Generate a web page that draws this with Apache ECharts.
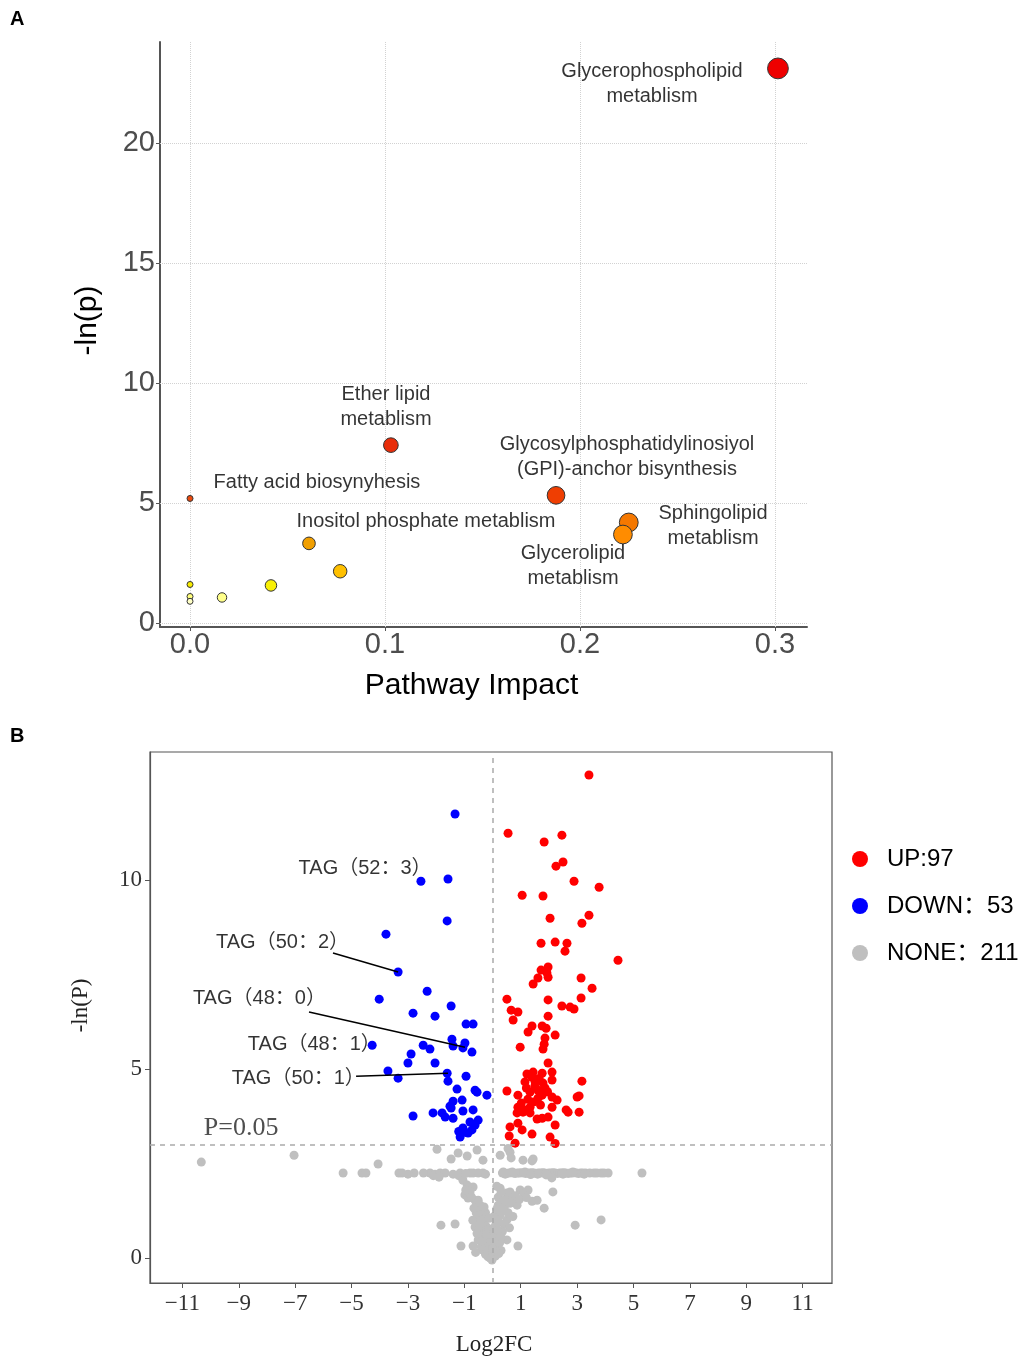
<!DOCTYPE html>
<html>
<head>
<meta charset="utf-8">
<script src="https://cdn.jsdelivr.net/npm/echarts@6/dist/echarts.min.js"></script>
<style>
html,body{margin:0;padding:0;background:#fff;}
#chart{width:1023px;height:1361px;}
</style>
</head>
<body>
<div id="chart"></div>
<script>
// ---------- Panel A: pathway analysis ----------
const pathwayImpact = [0.3015, 0.103, 0.1877, 0.225, 0.222, 0.0, 0.061, 0.077, 0.0415, 0.0164, 0.0, 0.0, 0.0];
const pathwayNegLnP = [23.1, 7.42, 5.33, 4.2, 3.7, 5.2, 3.33, 2.17, 1.58, 1.08, 1.62, 1.12, 0.92];
const pathwayLabels = [
  'Glycerophospholipid\nmetablism',
  'Ether lipid\nmetablism',
  'Glycosylphosphatidylinosiyol\n(GPI)-anchor bisynthesis',
  'Sphingolipid\nmetablism',
  'Glycerolipid\nmetablism',
  'Fatty acid biosynyhesis',
  'Inositol phosphate metablism'
];
const pathwayLabelAnchors = [[0.2369, 22.46], [0.1005, 9.0], [0.2241, 6.92], [0.2682, 4.04], [0.1964, 2.375], [0.0651, 5.875], [0.121, 4.25]];
const impactTicks = [0, 0.1, 0.2, 0.3];
const negLnPTicks = [0, 5, 10, 15, 20];

// ---------- Panel B: volcano ----------
const upPoints = [
[3.42,12.78],[0.55,11.24],[1.83,11.01],[2.46,11.19],[2.25,10.37],[2.50,10.48],[2.89,9.97],[3.78,9.81],[1.05,9.60],[1.79,9.58],
[2.04,8.99],[3.42,9.07],[3.17,8.86],[1.72,8.33],[2.22,8.36],[2.64,8.33],[2.57,8.12],[4.45,7.88],[1.97,7.70],[1.72,7.62],
[1.93,7.54],[1.97,7.43],[1.61,7.41],[1.44,7.25],[3.14,7.41],[3.53,7.14],[0.51,6.85],[1.97,6.83],[3.14,6.88],[2.46,6.67],
[2.75,6.64],[2.89,6.59],[0.66,6.56],[0.90,6.51],[0.73,6.30],[1.97,6.40],[1.40,6.14],[1.26,5.98],[1.76,6.14],[1.90,6.08],
[1.86,5.82],[2.22,5.90],[0.98,5.58],[1.83,5.66],[1.79,5.53],[1.97,5.16],[1.22,4.87],[1.44,4.92],[1.76,4.89],[2.11,4.92],
[1.15,4.66],[1.51,4.66],[1.79,4.63],[2.11,4.71],[3.17,4.68],[0.51,4.42],[0.90,4.31],[1.33,4.39],[1.61,4.44],[1.86,4.50],
[2.11,4.26],[2.29,4.18],[3.00,4.26],[3.07,4.29],[0.90,3.99],[1.08,3.94],[1.33,3.99],[1.44,4.13],[1.61,4.23],[1.76,4.31],
[0.87,3.84],[1.08,3.86],[1.33,3.84],[2.11,3.99],[2.61,3.92],[2.68,3.86],[3.07,3.86],[1.58,3.68],[1.76,3.70],[1.97,3.73],
[0.62,3.47],[0.90,3.57],[2.22,3.52],[1.05,3.39],[1.40,3.28],[0.59,3.23],[2.04,3.20],[0.80,3.04],[2.22,3.03],[1.50,4.55],
[1.65,4.75],[1.25,4.20],[1.95,4.40],[1.70,4.05],[1.20,4.50],[1.40,4.78],[1.02,4.10]
];
const downPoints = [
[-1.33,11.75],[-2.54,9.97],[-1.58,10.03],[-1.61,8.92],[-3.78,8.57],[-3.35,7.57],[-4.02,6.85],[-2.32,7.06],[-1.47,6.67],[-2.82,6.48],
[-2.04,6.40],[-0.94,6.19],[-0.69,6.19],[-1.44,5.79],[-0.98,5.69],[-1.40,5.61],[-1.05,5.56],[-0.73,5.45],[-4.27,5.63],[-2.46,5.63],
[-2.22,5.53],[-2.89,5.40],[-3.00,5.16],[-2.04,5.16],[-3.71,4.95],[-3.35,4.76],[-1.61,4.89],[-1.58,4.68],[-0.94,4.81],[-1.26,4.47],
[-0.62,4.44],[-0.55,4.39],[-0.20,4.31],[-1.40,4.15],[-1.08,4.18],[-1.51,4.02],[-1.47,3.97],[-0.69,3.92],[-1.05,3.89],[-2.82,3.76],
[-2.11,3.84],[-1.79,3.84],[-1.68,3.73],[-1.40,3.70],[-0.51,3.65],[-0.62,3.52],[-0.73,3.39],[-0.87,3.31],[-1.05,3.44],[-1.15,3.20],
[-0.98,3.33],[-0.80,3.60],[-1.20,3.35]
];
const nonePoints = [
[-10.33,2.54],[-7.04,2.72],[-4.06,2.49],
[-5.30,2.25],[-4.63,2.25],[-4.49,2.25],[-3.32,2.25],[-3.21,2.25],[-2.78,2.25],[-2.22,2.25],[-2.04,2.22],[-1.86,2.25],[-1.68,2.25],
[-1.15,2.25],[-0.69,2.25],[-0.51,2.25],[-0.34,2.25],[-1.20,2.18],[-2.10,2.18],
[-1.97,2.88],[-1.22,2.78],[-0.90,2.70],[-0.55,2.86],[-0.34,2.59],[-1.47,2.62],[-1.90,2.14],
[0.27,2.72],[0.62,2.80],[0.66,2.65],[1.08,2.59],[1.40,2.57],[1.44,2.62],[0.55,2.90],
[0.35,2.25],[0.42,2.25],[0.50,2.24],[0.58,2.25],[0.66,2.26],[0.74,2.25],[0.80,2.24],[0.88,2.25],[0.95,2.25],[1.02,2.26],
[1.10,2.25],[1.18,2.24],[1.25,2.25],[1.33,2.25],[1.40,2.26],[1.47,2.25],[1.55,2.24],[1.62,2.25],[1.70,2.25],[1.78,2.26],
[1.85,2.25],[1.92,2.24],[2.00,2.25],[2.08,2.25],[2.15,2.26],[2.22,2.25],[2.30,2.24],[2.38,2.25],[2.45,2.25],[2.52,2.26],
[2.60,2.25],[2.68,2.24],[2.75,2.25],[2.82,2.25],[2.90,2.26],[2.98,2.25],[3.05,2.24],[3.12,2.25],[3.20,2.25],[3.30,2.25],
[3.45,2.25],[3.60,2.25],[3.70,2.25],[3.85,2.25],[3.95,2.25],[4.10,2.25],[5.30,2.25],[2.10,2.12],[1.90,2.20],[0.45,2.22],
[0.70,2.28],[1.15,2.28],[1.60,2.22],[2.50,2.22],[2.85,2.28],[3.25,2.22],[0.38,2.28],[1.35,2.21],
[-1.05,2.06],[-0.90,1.93],[-0.69,1.88],[-0.98,1.67],[-0.87,1.59],[-0.62,1.53],[-0.44,1.40],[-0.51,1.53],[-0.80,1.75],[-0.95,1.80],
[-0.75,1.62],[-0.55,1.45],
[0.27,1.85],[0.51,1.72],[0.62,1.75],[0.98,1.80],[1.26,1.80],[1.58,1.53],[0.20,1.61],[0.37,1.48],[0.73,1.59],[0.87,1.40],
[0.37,1.27],[0.20,1.40],[0.27,1.14],[0.51,1.01],[0.45,1.55],[0.80,1.65],[1.10,1.70],[0.30,1.75],[0.15,1.90],[0.55,1.20],
[0.40,0.90],[0.60,0.80],[2.14,1.75],[1.83,1.32],[1.40,1.50],
[2.93,0.87],[3.85,1.01],[-1.83,0.87],[-1.33,0.90],[-1.12,0.32],[-0.69,0.32],[0.90,0.32],[0.51,0.48],
[-0.44,1.08],[-0.34,1.01],[-0.62,0.82],[-0.37,0.74],[-0.20,0.82],[-0.34,0.61],[-0.09,0.55],[0.16,0.55],[-0.51,0.48],[-0.20,0.40],
[0.02,0.34],[-0.34,0.21],[-0.09,0.13],[0.16,0.29],[-0.02,-0.05],[-0.16,0.03],[0.02,0.16],[-0.25,1.20],[-0.45,1.25],[-0.30,0.95],
[-0.15,0.70],[0.05,0.80],[0.10,0.65],[-0.05,0.45],[0.25,0.40],[0.30,0.20],[-0.40,0.30],[-0.60,0.15],[-0.25,0.10],[0.10,0.05],
[-0.10,0.25],[0.35,0.70],[0.20,1.00],[-0.55,0.65],[-0.70,1.00],[0.05,1.10],[-0.30,1.35],[-0.12,1.05],[0.12,0.90],[-0.45,0.90],
[-0.05,0.62],[-0.28,0.52],[0.08,0.42],[-0.18,0.18],[0.00,0.25],[-0.08,0.00],[0.22,0.12],[-0.38,0.45],[0.18,0.75],[-0.22,0.62],
[0.30,1.22],[0.42,1.35],[0.62,1.45],[0.15,1.30],[-0.58,1.20],[-0.66,1.32],[0.72,1.10],[0.95,1.55],[1.20,1.60],[0.30,0.55],
[-0.80,2.25],[-0.25,2.22],[-2.45,2.25],[-1.40,2.22],[-0.95,2.24],[-3.00,2.22]
];
const volcanoXTicks = [-11, -9, -7, -5, -3, -1, 1, 3, 5, 7, 9, 11];
const volcanoYTicks = [0, 5, 10];
const pThreshold = 2.996; // -ln(0.05)
const tagLabels = ['TAG（52：3）', 'TAG（50：2）', 'TAG（48：0）', 'TAG（48：1）', 'TAG（50：1）', 'P=0.05'];
const tagLabelAnchors = [[-4.52, 10.32], [-7.45, 8.36], [-8.27, 6.88], [-6.32, 5.66], [-6.89, 4.74]];
const pLabelAnchor = [-8.92, 3.44];
const tagLeaders = [
  [[-5.66, 8.07], [-3.35, 7.57]],
  [[-6.51, 6.51], [-0.98, 5.58]],
  [[-4.84, 4.81], [-1.58, 4.89]]
];
const legendNames = ['UP:97', 'DOWN：53', 'NONE：211'];

// ---------- styles ----------
const SANS = 'Liberation Sans, Arial, Noto Sans CJK SC, sans-serif';
const SERIF = 'Liberation Serif, Times New Roman, serif';
const colorStops = [[0.9,[255,255,205]],[1.1,[255,255,130]],[1.6,[248,238,0]],[2.2,[255,190,0]],[3.3,[240,160,0]],[3.7,[255,140,0]],[4.2,[245,120,0]],[5.2,[235,75,15]],[5.35,[240,60,0]],[7.4,[232,45,10]],[23,[238,0,0]]];
function heatColor(v){
  if (v <= colorStops[0][0]) return 'rgb(' + colorStops[0][1].join(',') + ')';
  for (let i = 1; i < colorStops.length; i++) {
    if (v <= colorStops[i][0]) {
      const a = colorStops[i-1], b = colorStops[i];
      const t = (v - a[0]) / (b[0] - a[0]);
      const c = a[1].map((x, k) => Math.round(x + (b[1][k] - x) * t));
      return 'rgb(' + c.join(',') + ')';
    }
  }
  return 'rgb(' + colorStops[colorStops.length-1][1].join(',') + ')';
}

const chart = echarts.init(document.getElementById('chart'), null, {renderer: 'canvas'});
const pathwayData = pathwayImpact.map((x, i) => [x, pathwayNegLnP[i]]);
const gridLineStyle = {type: 'dotted', color: '#d2d2d2', width: 1};

const option = {
  animation: false,
  backgroundColor: '#fff',
  graphic: [
    {type: 'text', left: 10, top: 9, style: {text: 'A', font: 'bold 20px ' + SANS, fill: '#000'}},
    {type: 'text', left: 10, top: 726, style: {text: 'B', font: 'bold 20px ' + SANS, fill: '#000'}}
  ],
  legend: {
    data: legendNames,
    orient: 'vertical',
    left: 847,
    top: 842,
    icon: 'circle',
    itemWidth: 44,
    itemHeight: 16,
    itemGap: 23,
    textStyle: {fontSize: 24, fontFamily: SANS, color: '#000'}
  },
  grid: [
    {left: 160, top: 42, width: 647, height: 585, show: false},
    {left: 150, top: 752, width: 682, height: 531, show: true, borderColor: '#555', borderWidth: 1.2, backgroundColor: '#fff'}
  ],
  xAxis: [
    {
      gridIndex: 0, type: 'value', min: -0.0154, max: 0.3164,
      name: 'Pathway Impact', nameLocation: 'middle', nameGap: 44,
      nameTextStyle: {fontSize: 30, fontFamily: SANS, color: '#000', padding: [0, 24, 0, 0]},
      axisLine: {show: true, onZero: false, lineStyle: {color: '#555', width: 2}},
      axisTick: {show: true, customValues: impactTicks, length: 4, lineStyle: {color: '#555'}},
      axisLabel: {customValues: impactTicks, formatter: v => v.toFixed(1), fontSize: 29, fontFamily: SANS, color: '#4d4d4d', margin: 3},
      splitLine: {show: false}
    },
    {
      gridIndex: 1, type: 'value', min: -12.15, max: 12.04,
      name: 'Log2FC', nameLocation: 'middle', nameGap: 50,
      nameTextStyle: {fontSize: 23, fontFamily: SERIF, color: '#222', padding: [0, 0, 0, 6]},
      axisLine: {show: true, onZero: false, lineStyle: {color: '#555', width: 1.2}},
      axisTick: {show: true, customValues: volcanoXTicks, length: 5, lineStyle: {color: '#555'}},
      axisLabel: {customValues: volcanoXTicks, formatter: v => String(v).replace('-', '\u2212'), fontSize: 23, fontFamily: SERIF, color: '#333', margin: 9},
      splitLine: {show: false}
    }
  ],
  yAxis: [
    {
      gridIndex: 0, type: 'value', min: -0.15, max: 24.2,
      name: '-ln(p)', nameLocation: 'middle', nameGap: 57, nameRotate: 90,
      nameTextStyle: {fontSize: 30, fontFamily: SANS, color: '#000', padding: [0, 0, 0, 28]},
      axisLine: {show: true, onZero: false, lineStyle: {color: '#555', width: 2}},
      axisTick: {show: true, customValues: negLnPTicks, length: 4, lineStyle: {color: '#555'}},
      axisLabel: {customValues: negLnPTicks, fontSize: 29, fontFamily: SANS, color: '#4d4d4d', margin: 5},
      splitLine: {show: false}
    },
    {
      gridIndex: 1, type: 'value', min: -0.66, max: 13.39,
      name: '-ln(P)', nameLocation: 'middle', nameGap: 58, nameRotate: 90,
      nameTextStyle: {fontSize: 23, fontFamily: SERIF, color: '#222', padding: [0, 0, 0, 24]},
      axisLine: {show: true, onZero: false, lineStyle: {color: '#555', width: 1.2}},
      axisTick: {show: true, customValues: volcanoYTicks, length: 5, lineStyle: {color: '#555'}},
      axisLabel: {customValues: volcanoYTicks, fontSize: 23, fontFamily: SERIF, color: '#333', margin: 8},
      splitLine: {show: false}
    }
  ],
  series: [
    {
      type: 'scatter', name: 'pathways', xAxisIndex: 0, yAxisIndex: 0,
      data: pathwayData,
      symbolSize: v => 6 + 27 * Math.sqrt(v[0]),
      itemStyle: {color: p => heatColor(p.value[1]), borderColor: '#333', borderWidth: 1, opacity: 1},
      z: 3,
      markLine: {
        silent: true, symbol: 'none', animation: false,
        label: {show: false},
        lineStyle: gridLineStyle,
        z: 1,
        data: impactTicks.map(v => ({xAxis: v})).concat(negLnPTicks.map(v => ({yAxis: v})))
      }
    },
    {
      type: 'scatter', name: 'pathwayLabels', xAxisIndex: 0, yAxisIndex: 0,
      symbolSize: 0.1, itemStyle: {color: 'transparent'}, z: 5, silent: true,
      data: pathwayLabels.map((t, i) => ({name: t, value: pathwayLabelAnchors[i]})),
      label: {show: true, position: 'inside', formatter: '{b}', fontSize: 20, lineHeight: 25, fontFamily: SANS, color: '#000', align: 'center', verticalAlign: 'middle'}
    },
    {
      type: 'scatter', name: 'NONE：211', xAxisIndex: 1, yAxisIndex: 1,
      data: nonePoints, symbolSize: 9, itemStyle: {color: '#bfbfbf', opacity: 1}, z: 2,
      markLine: {
        silent: true, symbol: 'none', animation: false, label: {show: false},
        lineStyle: {type: [5, 5], color: '#aaa', width: 1.5},
        data: [{xAxis: 0}, {yAxis: pThreshold}]
      }
    },
    {
      type: 'scatter', name: 'DOWN：53', xAxisIndex: 1, yAxisIndex: 1,
      data: downPoints, symbolSize: 9, itemStyle: {color: '#0000ff', opacity: 1}, z: 3,
      markLine: {
        silent: true, symbol: 'none', animation: false, label: {show: false},
        lineStyle: {type: 'solid', color: '#000', width: 1.5},
        data: tagLeaders.map(l => [{coord: l[0]}, {coord: l[1]}])
      }
    },
    {
      type: 'scatter', name: 'UP:97', xAxisIndex: 1, yAxisIndex: 1,
      data: upPoints, symbolSize: 9, itemStyle: {color: '#ff0000', opacity: 1}, z: 3
    },
    {
      type: 'scatter', name: 'tagLabels', xAxisIndex: 1, yAxisIndex: 1,
      symbolSize: 0.1, itemStyle: {color: 'transparent'}, z: 6, silent: true,
      data: tagLabelAnchors.map((a, i) => ({name: tagLabels[i], value: a})),
      label: {show: true, position: 'inside', formatter: '{b}', fontSize: 20, fontFamily: SANS, color: '#000'}
    },
    {
      type: 'scatter', name: 'pLabel', xAxisIndex: 1, yAxisIndex: 1,
      symbolSize: 0.1, itemStyle: {color: 'transparent'}, z: 6, silent: true,
      data: [{name: tagLabels[5], value: pLabelAnchor}],
      label: {show: true, position: 'inside', formatter: '{b}', fontSize: 26, fontFamily: SERIF, color: '#222'}
    }
  ]
};
chart.setOption(option);
</script>
</body>
</html>
